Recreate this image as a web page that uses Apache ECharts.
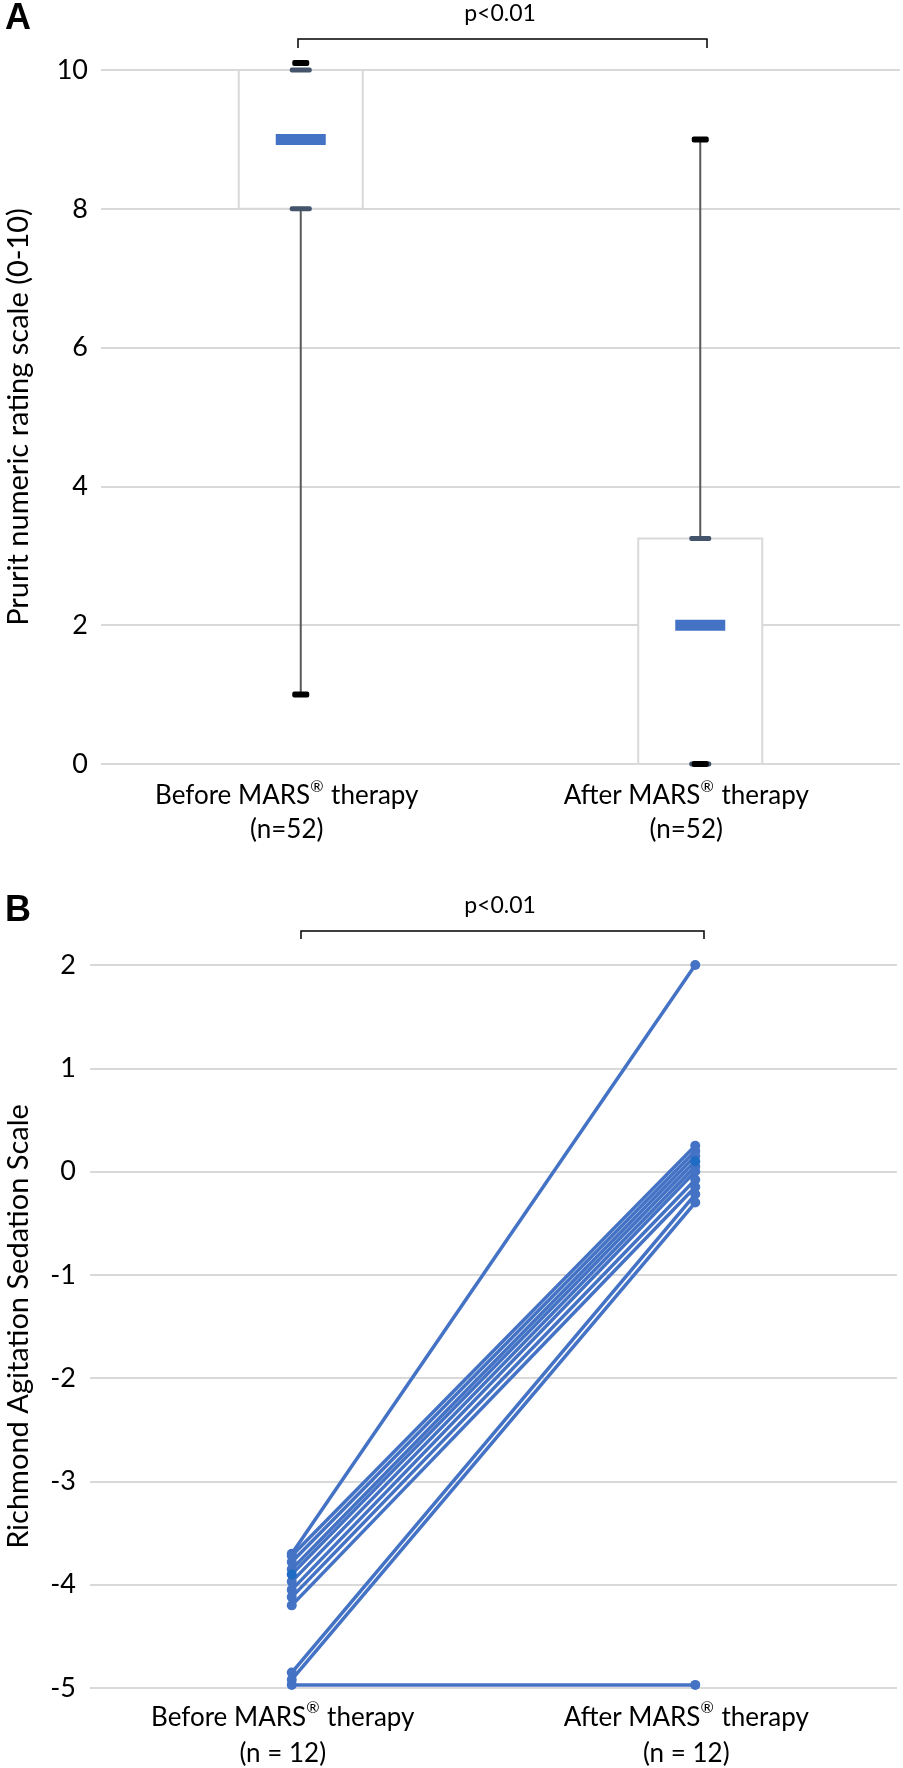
<!DOCTYPE html>
<html>
<head>
<meta charset="utf-8">
<script src="https://cdn.jsdelivr.net/npm/echarts@6/dist/echarts.min.js"></script>
<style>
html,body{margin:0;padding:0;background:#fff;}
#c{width:903px;height:1768px;}
</style>
</head>
<body>
<div id="c"></div>
<script>
// ---------- Data ----------
// Panel A: box plot (Prurit NRS)
const catsA = ['Before MARS® therapy\n(n=52)', 'After MARS® therapy\n(n=52)'];
const whiskerMin = [1, 0];
const q1 = [8, 0];
const median = [9, 2];
const q3 = [10, 3.25];
const whiskerMax = [10, 9];
const ticksA = [0, 2, 4, 6, 8, 10];

// Panel B: paired RASS values per patient (slightly jittered in original)
const catsB = ['Before MARS® therapy\n(n = 12)', 'After MARS® therapy\n(n = 12)'];
const rassBefore = [-3.70, -3.72, -3.78, -3.85, -3.90, -3.97, -4.05, -4.12, -4.20, -4.85, -4.92, -4.97];
const rassAfter  = [ 2.00,  0.25,  0.20,  0.15,  0.10,  0.05,  0.00, -0.08, -0.15, -0.22, -0.30, -4.97];
const ticksB = [-5, -4, -3, -2, -1, 0, 1, 2];

// ---------- Styles ----------
const FONT = 'Lato';
const BLUE = '#4472c4';
const GRID = '#d9d9d9';

const chart = echarts.init(document.getElementById('c'), null, {renderer: 'canvas'});

const boxData = catsA.map((c, i) => [i, whiskerMin[i], q1[i], median[i], q3[i], whiskerMax[i]]);

function renderBox(params, api) {
  const i = api.value(0);
  const x = api.coord([i, 0])[0];
  const yMin = api.coord([i, api.value(1)])[1];
  const yQ1 = api.coord([i, api.value(2)])[1];
  const yMed = api.coord([i, api.value(3)])[1];
  const yQ3 = api.coord([i, api.value(4)])[1];
  const yMax = api.coord([i, api.value(5)])[1];
  const bw = 124;
  const ch = [];
  ch.push({type: 'rect', shape: {x: x - bw / 2, y: yQ3, width: bw, height: yQ1 - yQ3},
    style: {fill: '#fff', stroke: GRID, lineWidth: 2}});
  if (api.value(5) > api.value(4)) {
    ch.push({type: 'line', shape: {x1: x, y1: yQ3, x2: x, y2: yMax}, style: {stroke: '#595959', lineWidth: 2}});
  }
  if (api.value(1) < api.value(2)) {
    ch.push({type: 'line', shape: {x1: x, y1: yQ1, x2: x, y2: yMin}, style: {stroke: '#595959', lineWidth: 2}});
  }
  [yQ1, yQ3].forEach(y => ch.push({type: 'rect', shape: {x: x - 11, y: y - 2.5, width: 22, height: 5, r: 2},
    style: {fill: '#44546a'}}));
  const maxOff = api.value(5) === api.value(4) ? -7 : 0;
  ch.push({type: 'rect', shape: {x: x - 8.5, y: yMax - 3 + maxOff, width: 17, height: 6, r: 2}, style: {fill: '#000'}});
  ch.push({type: 'rect', shape: {x: x - 8.5, y: yMin - 3, width: 17, height: 6, r: 2}, style: {fill: '#000'}});
  ch.push({type: 'rect', shape: {x: x - 25, y: yMed - 5.5, width: 50, height: 11}, style: {fill: BLUE}});
  return {type: 'group', children: ch};
}

const lineSeries = rassBefore.map((b, i) => ({
  type: 'line',
  xAxisIndex: 1, yAxisIndex: 1,
  data: [b, rassAfter[i]],
  symbol: 'circle',
  symbolSize: 10,
  lineStyle: {color: BLUE, width: 3.5},
  itemStyle: {color: i === 4 ? '#1f6cc4' : BLUE},
  silent: true,
  animation: false,
  z: i === 4 ? 3 : 2
}));

// category label with superscript ®
function supFormatter(v) {
  return v.split('\n').map(line => {
    const parts = line.split('®');
    return parts.map(p => p ? '{a|' + p + '}' : '').join('{s|®}');
  }).join('\n');
}
function catLabel(lh, margin, shiftLeft) {
  return {
    margin: margin, formatter: supFormatter, lineHeight: lh,
    padding: [0, shiftLeft * 2, 0, 0],
    rich: {
      a: {color: '#000', fontFamily: FONT, fontSize: 26, lineHeight: lh},
      s: {color: '#000', fontFamily: FONT, fontSize: 16, lineHeight: 16, verticalAlign: 'top', padding: [0, 1, 0, 0]}
    }
  };
}

const tickLabel = {color: '#000', fontFamily: FONT, fontSize: 27};

chart.setOption({
  animation: false,
  grid: [
    {left: 101, right: 3, top: 70, height: 694, outerBoundsMode: 'none', containLabel: false},
    {left: 90, right: 6, top: 965, height: 723, outerBoundsMode: 'none', containLabel: false}
  ],
  xAxis: [
    {type: 'category', gridIndex: 0, data: catsA, boundaryGap: true,
      axisLine: {show: false}, axisTick: {show: false},
      axisLabel: catLabel(34, 15, 14)},
    {type: 'category', gridIndex: 1, data: catsB, boundaryGap: true,
      axisLine: {show: false}, axisTick: {show: false},
      axisLabel: catLabel(36, 12, 9)}
  ],
  yAxis: [
    {type: 'value', gridIndex: 0, min: ticksA[0], max: ticksA[ticksA.length - 1], interval: 2,
      axisLine: {show: false}, axisTick: {show: false},
      splitLine: {lineStyle: {color: GRID, width: 2}},
      axisLabel: Object.assign({}, tickLabel, {margin: 13}),
      name: 'Prurit numeric rating scale (0-10)', nameLocation: 'middle', nameGap: 68,
      nameTextStyle: {color: '#000', fontFamily: FONT, fontSize: 29}},
    {type: 'value', gridIndex: 1, min: ticksB[0], max: ticksB[ticksB.length - 1], interval: 1,
      axisLine: {show: false}, axisTick: {show: false},
      splitLine: {lineStyle: {color: GRID, width: 2}},
      axisLabel: Object.assign({}, tickLabel, {margin: 14}),
      name: 'Richmond Agitation Sedation Scale', nameLocation: 'middle', nameGap: 57,
      nameTextStyle: {color: '#000', fontFamily: FONT, fontSize: 29}}
  ],
  series: [
    {type: 'custom', xAxisIndex: 0, yAxisIndex: 0, data: boxData, renderItem: renderBox, silent: true, z: 3}
  ].concat(lineSeries),
  graphic: [
    {type: 'text', left: 5, top: 1, style: {text: 'A', font: 'bold 36px "Liberation Sans", Arial', fill: '#000'}},
    {type: 'text', left: 5, top: 893, style: {text: 'B', font: 'bold 36px "Liberation Sans", Arial', fill: '#000'}},
    {type: 'text', x: 500, y: 14, style: {text: 'p<0.01', font: '23px ' + FONT, fill: '#000', align: 'center', verticalAlign: 'middle'}},
    {type: 'text', x: 500, y: 906, style: {text: 'p<0.01', font: '23px ' + FONT, fill: '#000', align: 'center', verticalAlign: 'middle'}},
    {type: 'polyline', shape: {points: [[298, 48], [298, 39], [707, 39], [707, 48]]}, style: {stroke: '#000', lineWidth: 1.5, fill: null}},
    {type: 'polyline', shape: {points: [[301, 939], [301, 931], [704, 931], [704, 939]]}, style: {stroke: '#000', lineWidth: 1.5, fill: null}}
  ]
});
</script>
</body>
</html>
